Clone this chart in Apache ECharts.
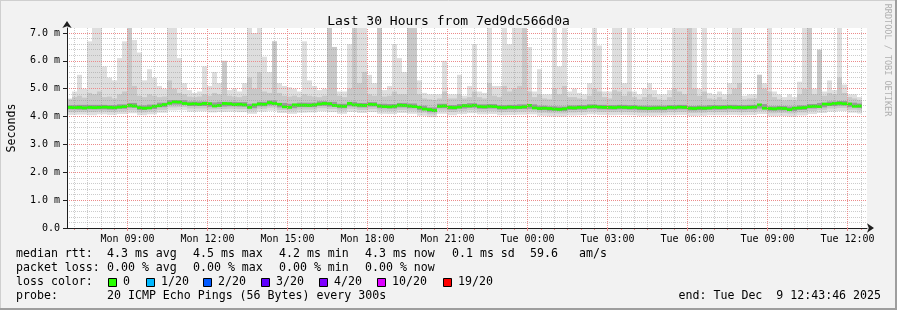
<!DOCTYPE html>
<html>
<head>
<meta charset="utf-8">
<title>Last 30 Hours from 7ed9dc566d0a</title>
<script src="https://cdn.jsdelivr.net/npm/echarts@6/dist/echarts.min.js"></script>
<style>
  html, body { margin: 0; padding: 0; background: #f2f2f2; }
  #chart { width: 897px; height: 310px; }
</style>
</head>
<body>
<div id="chart"></div>
<script>
const MONO = '"DejaVu Sans Mono", monospace';
const START = 24226;           // Mon 06:43:46 in seconds since Mon 00:00
const END = START + 108000;    // Tue 12:43:46
const YMAX = 7.18;
const DAYS = ['Mon', 'Tue'];

// tick / label positions (seconds since Mon 00:00)
const LABEL_TIMES = [32400, 43200, 54000, 64800, 75600, 86400, 97200, 108000, 118800, 129600];
const Y_MAJOR = [0, 1, 2, 3, 4, 5, 6, 7];

// smoke columns, one per 11.25 min (milliseconds)
const median = [
  4.33,4.32,4.33,4.31,4.33,4.32,4.33,4.34,4.33,4.32,4.34,
  4.36,4.40,4.38,4.32,4.30,4.31,4.37,4.39,4.43,4.48,
  4.53,4.52,4.47,4.45,4.46,4.44,4.47,4.46,4.38,4.40,
  4.47,4.46,4.43,4.44,4.42,4.33,4.42,4.45,4.44,4.50,
  4.47,4.44,4.35,4.33,4.42,4.41,4.41,4.40,4.42,4.45,
  4.47,4.46,4.40,4.38,4.37,4.47,4.42,4.41,4.40,4.44,
  4.43,4.38,4.36,4.35,4.37,4.41,4.40,4.38,4.36,4.33,
  4.27,4.25,4.22,4.37,4.38,4.33,4.32,4.34,4.39,4.38,
  4.40,4.36,4.35,4.37,4.36,4.33,4.32,4.34,4.33,4.33,
  4.35,4.40,4.31,4.29,4.30,4.29,4.27,4.26,4.28,4.32,
  4.31,4.33,4.32,4.35,4.36,4.34,4.33,4.33,4.32,4.34,
  4.33,4.32,4.33,4.31,4.30,4.29,4.30,4.31,4.30,4.33,
  4.32,4.34,4.33,4.30,4.29,4.31,4.30,4.31,4.33,4.32,
  4.33,4.34,4.32,4.33,4.32,4.33,4.34,4.42,4.30,4.29,
  4.28,4.30,4.29,4.25,4.30,4.31,4.32,4.36,4.37,4.36,
  4.45,4.44,4.47,4.48,4.46,4.45,4.37,4.38
];
const smokeMax = [
  4.65,4.90,5.50,5.00,6.70,7.30,7.30,5.80,5.40,5.30,6.10,
  6.70,7.30,6.75,6.30,5.30,5.70,5.40,5.10,5.00,7.30,
  7.30,6.10,5.20,4.95,4.85,4.90,5.80,5.10,5.60,5.20,
  6.00,4.95,5.00,4.90,5.20,7.30,7.00,7.30,6.15,5.60,
  6.70,5.20,5.10,5.05,5.00,4.90,6.70,5.30,5.10,4.95,
  5.00,7.30,6.50,4.90,4.90,6.60,7.30,7.30,7.30,5.50,
  5.20,7.30,4.95,5.10,6.60,6.10,5.60,7.30,7.30,5.30,
  4.85,4.80,4.80,4.80,6.00,4.80,4.80,5.50,4.75,5.10,
  6.60,4.90,4.85,7.30,5.10,5.10,7.30,6.60,7.30,7.30,
  7.30,6.50,4.90,5.70,4.80,4.80,7.30,5.80,7.30,4.90,
  5.00,4.85,4.80,5.20,7.30,6.55,4.90,4.90,7.30,7.30,
  5.20,7.30,4.90,4.80,5.00,5.20,4.95,4.80,4.80,4.95,
  7.30,7.30,7.30,7.30,7.30,5.00,7.30,4.85,4.80,4.90,
  4.80,5.20,7.30,7.30,4.75,4.80,4.80,5.50,5.20,7.30,
  4.90,4.80,4.70,4.80,4.70,5.25,7.30,7.30,5.00,6.40,
  4.90,5.30,4.95,7.30,5.15,4.80,4.80,4.70
];
const smokeMidHi = [
  4.62,4.70,4.75,4.68,4.85,4.80,4.90,4.70,4.72,4.65,4.80,
  4.90,7.30,5.10,4.75,4.70,4.80,4.75,4.70,4.72,5.30,
  5.00,4.85,4.80,4.72,4.70,4.72,4.80,4.75,4.85,4.80,
  6.00,4.75,4.72,4.70,4.75,5.40,5.00,5.60,4.90,4.85,
  6.70,4.85,4.75,4.72,4.75,4.70,4.80,4.75,4.72,4.70,
  4.75,7.30,6.50,4.75,4.70,5.00,7.30,5.20,5.60,4.80,
  4.75,7.30,4.72,4.75,4.90,4.80,4.80,7.30,7.30,4.80,
  4.65,4.62,4.60,4.65,4.90,4.65,4.65,4.80,4.65,4.70,
  4.90,4.70,4.65,5.20,4.75,4.70,5.10,4.90,5.00,5.10,
  7.30,4.90,4.70,4.80,4.65,4.62,5.00,4.80,5.10,4.70,
  4.70,4.65,4.62,4.75,5.00,4.90,4.70,4.65,4.95,4.90,
  4.75,4.90,4.70,4.62,4.70,4.80,4.70,4.62,4.60,4.70,
  5.00,4.90,4.80,7.30,5.00,4.75,4.90,4.65,4.62,4.70,
  4.62,4.80,5.00,5.20,4.62,4.65,4.65,5.50,5.00,4.90,
  4.70,4.62,4.58,4.60,4.58,4.80,5.00,7.30,4.80,6.40,
  4.75,4.85,4.80,5.40,4.85,4.70,4.65,4.60
];
// lower edges and the dark core, one per 22.5 min
const smokeLo = [
  4.06,4.07,4.05,4.08,4.06,4.09,4.12,4.05,4.08,4.14,
  4.22,4.23,4.18,4.19,4.15,4.17,4.18,4.16,4.10,4.18,
  4.21,4.13,4.10,4.14,4.15,4.19,4.16,4.10,4.17,4.13,
  4.16,4.10,4.09,4.13,4.10,4.03,3.98,4.10,4.05,4.09,
  4.12,4.08,4.09,4.05,4.06,4.07,4.08,4.03,4.01,4.00,
  4.04,4.05,4.08,4.06,4.05,4.06,4.05,4.03,4.03,4.04,
  4.05,4.06,4.02,4.03,4.05,4.05,4.06,4.05,4.06,4.09,
  4.01,4.02,4.00,4.04,4.09,4.13,4.18,4.20,4.14,4.11
];
const smokeMidLo = [
  4.16,4.17,4.16,4.18,4.16,4.19,4.22,4.15,4.18,4.24,
  4.33,4.34,4.29,4.29,4.26,4.27,4.28,4.27,4.21,4.28,
  4.32,4.24,4.21,4.25,4.25,4.30,4.27,4.21,4.28,4.24,
  4.27,4.21,4.20,4.24,4.21,4.14,4.08,4.21,4.16,4.20,
  4.23,4.19,4.20,4.16,4.17,4.18,4.19,4.14,4.12,4.11,
  4.15,4.16,4.19,4.17,4.16,4.17,4.16,4.14,4.14,4.14,
  4.16,4.17,4.13,4.14,4.16,4.16,4.17,4.16,4.17,4.20,
  4.12,4.13,4.11,4.15,4.20,4.24,4.29,4.31,4.25,4.22
];
const coreLo = [
  4.26,4.25,4.26,4.26,4.25,4.28,4.32,4.24,4.27,4.34,
  4.43,4.43,4.38,4.38,4.35,4.36,4.37,4.36,4.30,4.37,
  4.41,4.33,4.30,4.34,4.34,4.39,4.36,4.30,4.37,4.33,
  4.36,4.30,4.29,4.33,4.30,4.23,4.16,4.30,4.25,4.29,
  4.32,4.28,4.29,4.25,4.26,4.27,4.28,4.23,4.21,4.20,
  4.24,4.25,4.28,4.26,4.25,4.26,4.25,4.23,4.23,4.23,
  4.25,4.26,4.22,4.23,4.25,4.25,4.26,4.25,4.26,4.29,
  4.21,4.22,4.20,4.24,4.29,4.33,4.38,4.40,4.34,4.31
];
const coreHi = [
  4.41,4.42,4.42,4.42,4.41,4.44,4.49,4.40,4.43,4.50,
  4.59,4.59,4.54,4.54,4.51,4.53,4.53,4.52,4.46,4.53,
  4.58,4.49,4.46,4.50,4.50,4.55,4.53,4.46,4.53,4.49,
  4.52,4.46,4.45,4.49,4.47,4.39,4.33,4.46,4.41,4.45,
  4.48,4.44,4.45,4.41,4.42,4.44,4.44,4.39,4.37,4.36,
  4.40,4.41,4.44,4.42,4.41,4.42,4.41,4.39,4.39,4.39,
  4.41,4.42,4.38,4.39,4.41,4.41,4.42,4.41,4.42,4.45,
  4.37,4.38,4.36,4.40,4.45,4.49,4.54,4.56,4.50,4.47
];

const lossItems = [
  { label: '0', color: '#26ff00', x: 108 },
  { label: '1/20', color: '#00b8ff', x: 146 },
  { label: '2/20', color: '#0059ff', x: 203 },
  { label: '3/20', color: '#5e00ff', x: 261 },
  { label: '4/20', color: '#7e00ff', x: 319 },
  { label: '10/20', color: '#dd00ff', x: 377 },
  { label: '19/20', color: '#ff0000', x: 443 }
];

// minor grid every 30 min, except where the 3-hourly major grid is
const MINOR_X = [];
for (let t = 25200; t < END; t += 1800) if (LABEL_TIMES.indexOf(t) < 0) MINOR_X.push(t);
const Y_MINOR = [];
for (let i = 1; i < 36; i++) if (i % 5) Y_MINOR.push(i / 5);

const NBIN = 160;
const bins = [];
for (let i = 0; i < NBIN; i++) bins.push(i);

// stacked bands: an invisible base then the visible part
function band(lo, hi) {
  const base = [], part = [];
  for (let i = 0; i < NBIN; i++) {
    if (i >= median.length) { base.push(null); part.push(null); continue; }
    const a = lo(i), b = hi(i);
    base.push(a);
    part.push(Math.max(b - a, 0));
  }
  return [base, part];
}
const k = i => Math.floor(i / 2);
const lightBand = band(i => smokeLo[k(i)], i => smokeMax[i]);
const midBand = band(i => smokeMidLo[k(i)], i => smokeMidHi[i]);
const coreBand = band(i => coreLo[k(i)], i => coreHi[k(i)]);
const medBand = band(i => median[i] - 0.05, i => median[i] + 0.05);

function barPair(name, data, color) {
  const common = {
    type: 'bar', xAxisIndex: 2, yAxisIndex: 0, stack: name, z: 1,
    barWidth: '100%', barGap: '-100%', silent: true, animation: false, clip: true
  };
  return [
    Object.assign({}, common, { name: name + '_base', data: data[0], itemStyle: { color: 'transparent' } }),
    Object.assign({}, common, { name: name, data: data[1], itemStyle: { color: color } })
  ];
}

function fmtTime(v) {
  const d = Math.floor(v / 86400);
  const h = Math.round((v % 86400) / 3600);
  return DAYS[d] + ' ' + String(h).padStart(2, '0') + ':00';
}

const GRID_C = 'rgba(143,143,143,0.45)';
const MGRID_C = '#ec8a8a';

// 3-hourly major grid, one short line series per label time
const majorX = LABEL_TIMES.map(t => ({
  type: 'line', xAxisIndex: 0, yAxisIndex: 0, z: 4,
  data: [[t, 0], [t, YMAX]],
  symbol: 'none', silent: true, animation: false,
  lineStyle: { color: MGRID_C, type: [1, 1], width: 1 }
}));

const graphics = [
  { type: 'line', shape: { x1: 0, y1: 0.5, x2: 897, y2: 0.5 }, style: { stroke: '#cfcfcf', lineWidth: 1 } },
  { type: 'line', shape: { x1: 0.5, y1: 0, x2: 0.5, y2: 310 }, style: { stroke: '#cfcfcf', lineWidth: 1 } },
  { type: 'line', shape: { x1: 0, y1: 309, x2: 897, y2: 309 }, style: { stroke: '#9e9e9e', lineWidth: 2 } },
  { type: 'line', shape: { x1: 896, y1: 0, x2: 896, y2: 310 }, style: { stroke: '#9e9e9e', lineWidth: 2 } },
  {
    type: 'text', x: 887, y: 60, rotation: -Math.PI / 2,
    style: { text: 'RRDTOOL / TOBI OETIKER', font: '8.5px ' + MONO, fill: '#b0b0b0', textAlign: 'center', textVerticalAlign: 'middle' }
  }
];
function txt(x, y, s, align) {
  graphics.push({
    type: 'text', x: x, y: y,
    style: { text: s, font: '11.6px ' + MONO, fill: '#000', textAlign: align || 'left', textVerticalAlign: 'middle' }
  });
}
const rowY = [254, 268, 282, 296];
txt(16, rowY[0], 'median rtt:');
txt(107, rowY[0], '4.3 ms avg');
txt(193, rowY[0], '4.5 ms max');
txt(279, rowY[0], '4.2 ms min');
txt(365, rowY[0], '4.3 ms now');
txt(452, rowY[0], '0.1 ms sd');
txt(530, rowY[0], '59.6');
txt(579, rowY[0], 'am/s');
txt(16, rowY[1], 'packet loss:');
txt(107, rowY[1], '0.00 % avg');
txt(193, rowY[1], '0.00 % max');
txt(279, rowY[1], '0.00 % min');
txt(365, rowY[1], '0.00 % now');
txt(16, rowY[2], 'loss color:');
lossItems.forEach(it => {
  graphics.push({
    type: 'rect', shape: { x: it.x + 0.5, y: 278.5, width: 8, height: 8 },
    style: { fill: it.color, stroke: '#000', lineWidth: 1 }
  });
  txt(it.x + 15, rowY[2], it.label);
});
txt(16, rowY[3], 'probe:');
txt(107, rowY[3], '20 ICMP Echo Pings (56 Bytes) every 300s');
txt(881, rowY[3], 'end: Tue Dec  9 12:43:46 2025', 'right');

const chart = echarts.init(document.getElementById('chart'), null, { renderer: 'canvas' });
chart.setOption({
  backgroundColor: '#f2f2f2',
  animation: false,
  title: {
    text: 'Last 30 Hours from 7ed9dc566d0a',
    left: 'center', top: 10,
    textStyle: { fontFamily: MONO, fontSize: 13, fontWeight: 'normal', color: '#000' }
  },
  grid: {
    left: 67, top: 28, width: 800, height: 200, z: 0,
    outerBoundsMode: 'none', containLabel: false,
    show: true, backgroundColor: '#ffffff', borderWidth: 0
  },
  xAxis: [
    {
      type: 'value', min: START, max: END, position: 'bottom', z: 6,
      axisLine: { show: true, lineStyle: { color: '#1f1f1f', width: 1 }, symbol: ['none', 'arrow'], symbolSize: [7, 7], symbolOffset: [0, 7] },
      axisTick: { show: true, customValues: LABEL_TIMES, length: 3, lineStyle: { color: MGRID_C } },
      axisLabel: {
        customValues: LABEL_TIMES, formatter: fmtTime, margin: 6,
        fontFamily: MONO, fontSize: 10, color: '#000'
      },
      splitLine: { show: false }
    },
    {
      type: 'value', min: START, max: END, position: 'bottom', z: 3,
      axisLine: { show: false },
      axisTick: { show: true, customValues: MINOR_X, length: 2, lineStyle: { color: MGRID_C } },
      axisLabel: { show: false },
      splitLine: { show: true, lineStyle: { color: GRID_C, type: [1, 1], width: 1 } }
    },
    {
      type: 'category', data: bins, show: false, position: 'bottom'
    }
  ],
  yAxis: [
    {
      type: 'value', min: 0, max: YMAX, z: 6,
      name: 'Seconds', nameLocation: 'middle', nameGap: 49, nameRotate: 90,
      nameTextStyle: { fontFamily: MONO, fontSize: 11.6, color: '#000' },
      axisLine: { show: true, lineStyle: { color: '#1f1f1f', width: 1 }, symbol: ['none', 'arrow'], symbolSize: [7, 7], symbolOffset: [0, 7] },
      axisTick: { show: true, customValues: Y_MAJOR, length: 4, lineStyle: { color: '#1f1f1f' } },
      axisLabel: {
        customValues: Y_MAJOR, margin: 7,
        formatter: v => v === 0 ? '0.0' : v.toFixed(1) + ' m',
        fontFamily: MONO, fontSize: 10, color: '#000'
      },
      splitLine: { show: true, lineStyle: { color: MGRID_C, type: [1, 1], width: 1 } }
    },
    {
      type: 'value', min: 0, max: YMAX, position: 'left', z: 3,
      axisLine: { show: false },
      axisTick: { show: true, customValues: Y_MINOR, length: 0 },
      axisLabel: { show: false },
      splitLine: { show: true, lineStyle: { color: GRID_C, type: [1, 1], width: 1 } }
    }
  ],
  series: [].concat(
    barPair('light', lightBand, '#dedede'),
    barPair('mid', midBand, '#c8c8c8'),
    barPair('core', coreBand, '#9a9a9a'),
    barPair('median', medBand, '#26ff00'),
    majorX
  ),
  graphic: { elements: graphics }
});
</script>
</body>
</html>
